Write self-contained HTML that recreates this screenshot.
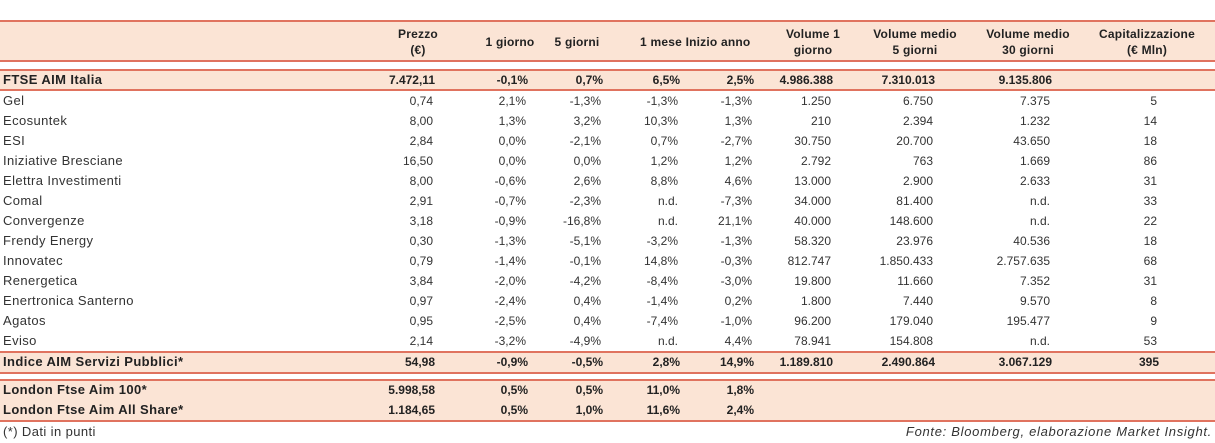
<!DOCTYPE html>
<html><head><meta charset="utf-8">
<style>
html,body{margin:0;padding:0;background:#fff;}
#root{position:relative;width:1215px;height:443px;overflow:hidden;font-family:"Liberation Sans",sans-serif;font-size:12px;color:#333;}
.band{position:absolute;left:0;width:1215px;background:#fbe4d5;}
.line{position:absolute;left:0;width:1215px;height:2px;background:#e0735f;}
.t{position:absolute;white-space:nowrap;line-height:14px;}
.lab{font-size:13px;letter-spacing:0.4px;}
.b{font-weight:bold;color:#222;}
.h{text-align:center;font-weight:bold;transform:translateX(-50%);line-height:16px;font-size:12px;color:#222;letter-spacing:0.2px;}
.r{transform:translateX(-100%);}
</style></head>
<body>
<div id="root">
  <div class="band" style="top:21px;height:41px"></div>
  <div class="band" style="top:70px;height:20px"></div>
  <div class="band" style="top:352px;height:21px"></div>
  <div class="band" style="top:380px;height:41px"></div>
  <div class="line" style="top:20px"></div>
  <div class="line" style="top:60px"></div>
  <div class="line" style="top:69px"></div>
  <div class="line" style="top:89px"></div>
  <div class="line" style="top:351px"></div>
  <div class="line" style="top:372px"></div>
  <div class="line" style="top:379px"></div>
  <div class="line" style="top:420px"></div>
  <div class="t lab" style="left:3px;top:425px">(*) Dati in punti</div>
  <div class="t lab" style="left:1212px;top:425px;font-style:italic;transform:translateX(-100%);letter-spacing:0.7px">Fonte: Bloomberg, elaborazione Market Insight.</div>
</div>
<script>
const headers = [["Prezzo","(€)"],["1 giorno"],["5 giorni"],["1 mese"],["Inizio anno"],["Volume 1","giorno"],["Volume medio","5 giorni"],["Volume medio","30 giorni"],["Capitalizzazione","(€ Mln)"]];
const headerCenters = [418,510,577,661,718,813,915,1028,1147];
const colRights = [433,526,601,678,752,831,933,1050,1157];
const rowLabels = ["FTSE AIM Italia","Gel","Ecosuntek","ESI","Iniziative Bresciane","Elettra Investimenti","Comal","Convergenze","Frendy Energy","Innovatec","Renergetica","Enertronica Santerno","Agatos","Eviso","Indice AIM Servizi Pubblici*","London Ftse Aim 100*","London Ftse Aim All Share*"];
const rowValues = [
["7.472,11","-0,1%","0,7%","6,5%","2,5%","4.986.388","7.310.013","9.135.806",""],
["0,74","2,1%","-1,3%","-1,3%","-1,3%","1.250","6.750","7.375","5"],
["8,00","1,3%","3,2%","10,3%","1,3%","210","2.394","1.232","14"],
["2,84","0,0%","-2,1%","0,7%","-2,7%","30.750","20.700","43.650","18"],
["16,50","0,0%","0,0%","1,2%","1,2%","2.792","763","1.669","86"],
["8,00","-0,6%","2,6%","8,8%","4,6%","13.000","2.900","2.633","31"],
["2,91","-0,7%","-2,3%","n.d.","-7,3%","34.000","81.400","n.d.","33"],
["3,18","-0,9%","-16,8%","n.d.","21,1%","40.000","148.600","n.d.","22"],
["0,30","-1,3%","-5,1%","-3,2%","-1,3%","58.320","23.976","40.536","18"],
["0,79","-1,4%","-0,1%","14,8%","-0,3%","812.747","1.850.433","2.757.635","68"],
["3,84","-2,0%","-4,2%","-8,4%","-3,0%","19.800","11.660","7.352","31"],
["0,97","-2,4%","0,4%","-1,4%","0,2%","1.800","7.440","9.570","8"],
["0,95","-2,5%","0,4%","-7,4%","-1,0%","96.200","179.040","195.477","9"],
["2,14","-3,2%","-4,9%","n.d.","4,4%","78.941","154.808","n.d.","53"],
["54,98","-0,9%","-0,5%","2,8%","14,9%","1.189.810","2.490.864","3.067.129","395"],
["5.998,58","0,5%","0,5%","11,0%","1,8%","","","",""],
["1.184,65","0,5%","1,0%","11,6%","2,4%","","","",""]
];
const boldRows = [0,14,15,16];
const rowTops = [73,94,114,134,154,174,194,214,234,254,274,294,314,334,355,383,403];
const root = document.getElementById('root');
headers.forEach((h,i)=>{
  const d = document.createElement('div');
  d.className = 't h';
  d.style.left = headerCenters[i]+'px';
  d.style.top = (h.length===2 ? 26 : 34)+'px';
  d.innerHTML = h.join('<br>');
  
  
  root.appendChild(d);
});
rowLabels.forEach((lab,r)=>{
  const bold = boldRows.includes(r);
  const l = document.createElement('div');
  l.className = 't lab' + (bold?' b':'');
  l.style.left = '3px';
  l.style.top = rowTops[r]+'px';
  l.textContent = lab;
  
  
  root.appendChild(l);
  rowValues[r].forEach((v,c)=>{
    if(!v) return;
    const d = document.createElement('div');
    d.className = 't r' + (bold?' b':'');
    d.style.left = (colRights[c] + (bold?2:0))+'px';
    d.style.top = rowTops[r]+'px';
    d.textContent = v;
    
    
    root.appendChild(d);
  });
});
</script>
</body></html>
